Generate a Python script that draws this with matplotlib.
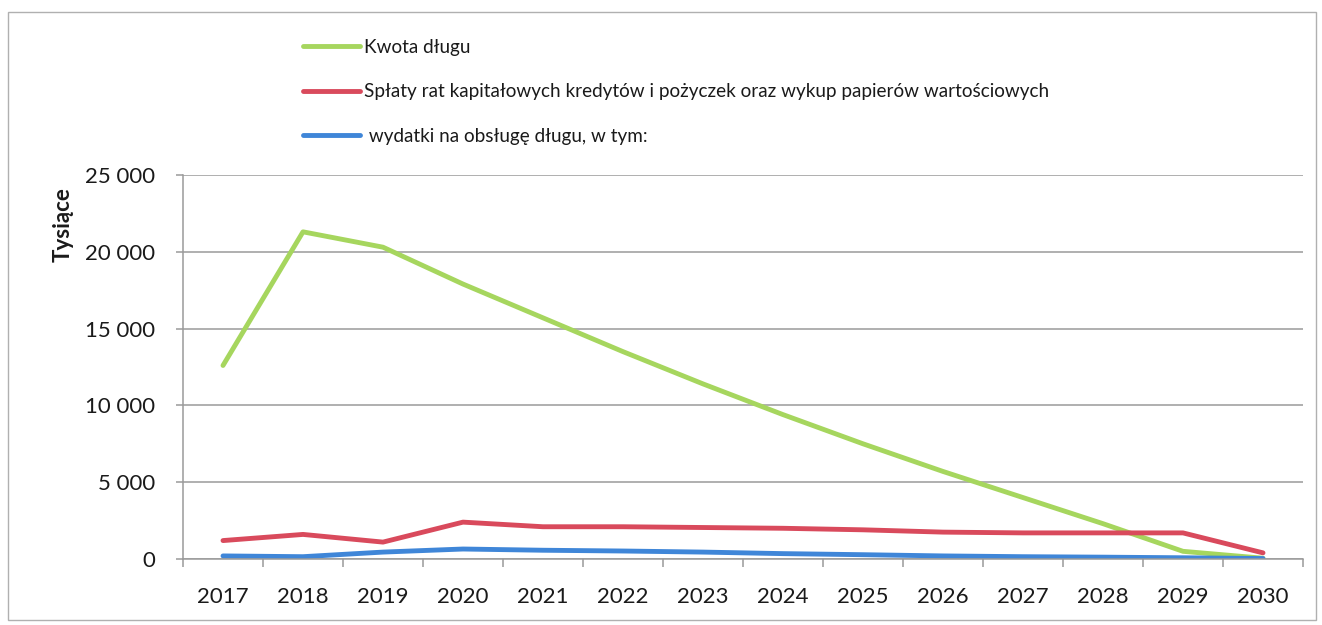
import matplotlib
matplotlib.use("Agg")
import matplotlib.pyplot as plt
from matplotlib.ticker import FuncFormatter, FixedLocator
from matplotlib.patches import Rectangle

years = ["2017", "2018", "2019", "2020", "2021", "2022", "2023",
         "2024", "2025", "2026", "2027", "2028", "2029", "2030"]
kwota_dlugu = [12600, 21300, 20300, 17900, 15700, 13500, 11400,
               9400, 7500, 5700, 4000, 2300, 500, 50]
splaty_rat = [1200, 1600, 1100, 2400, 2100, 2100, 2050,
              2000, 1900, 1750, 1700, 1700, 1700, 400]
wydatki_obsluga = [200, 150, 450, 650, 570, 520, 450,
                   350, 280, 200, 150, 120, 80, 30]
series_labels = ["Kwota długu",
                 "Spłaty rat kapitałowych kredytów i pożyczek oraz wykup papierów wartościowych",
                 " wydatki na obsługę długu, w tym:"]
y_ticks = [0, 5000, 10000, 15000, 20000, 25000]

plt.rcParams['font.family'] = ['Lato', 'DejaVu Sans']

fig = plt.figure(figsize=(13.22, 6.25), dpi=100)
ax = fig.add_axes([183/1322, 1-559/625, (1303-183)/1322, (559-175)/625])

x = list(range(len(years)))
l1, = ax.plot(x, kwota_dlugu, color="#a6d65e", lw=3.5, solid_capstyle="round", label=series_labels[0])
l2, = ax.plot(x, splaty_rat, color="#d94a5c", lw=3.5, solid_capstyle="round", label=series_labels[1])
l3, = ax.plot(x, wydatki_obsluga, color="#3f86d8", lw=3.5, solid_capstyle="round", label=series_labels[2])

ax.set_xlim(-0.5, len(years) - 0.5)
ax.set_ylim(0, 25000)
ax.set_yticks(y_ticks)
ax.yaxis.set_major_formatter(FuncFormatter(lambda v, p: f"{int(v):,}".replace(",", " ")))
ax.set_xticks(x)
ax.set_xticklabels(years)
ax.xaxis.set_minor_locator(FixedLocator([i - 0.5 for i in range(len(years) + 1)]))

ax.grid(axis="y", color="#9a9a9a", lw=1.1)
ax.set_axisbelow(True)
for s in ["top", "right"]:
    ax.spines[s].set_visible(False)
ax.spines["left"].set_color("#9a9a9a")
ax.spines["bottom"].set_color("#9a9a9a")
ax.spines["left"].set_linewidth(1.1)
ax.spines["bottom"].set_linewidth(1.1)

ax.tick_params(axis="x", which="major", length=0, pad=20, labelsize=16, labelcolor="#1a1a1a")
ax.tick_params(axis="x", which="minor", length=6, width=1.1, color="#9a9a9a", direction="out")
ax.tick_params(axis="y", length=5, width=1.1, color="#9a9a9a", pad=15, labelsize=16, labelcolor="#1a1a1a")

ax.set_ylabel("Tysiące", fontsize=16, fontweight="bold", color="#1a1a1a")
ax.yaxis.set_label_coords(-0.098, 0.87)

leg = fig.legend(handles=[l1, l2, l3], loc="upper left",
                 bbox_to_anchor=(303/1322, 1 - 39/625), frameon=False,
                 fontsize=13.6, handlelength=3.0, handletextpad=0.25,
                 labelspacing=1.45, borderpad=0, borderaxespad=0)
for t in leg.get_texts():
    t.set_color("#1a1a1a")

fig.patches.append(Rectangle((8/1322, 1-620/625), (1316-8)/1322, (620-12)/625,
                             transform=fig.transFigure, fill=False,
                             edgecolor="#b0b0b0", lw=1.0))

fig.savefig("out.png", dpi=100, facecolor="white")
